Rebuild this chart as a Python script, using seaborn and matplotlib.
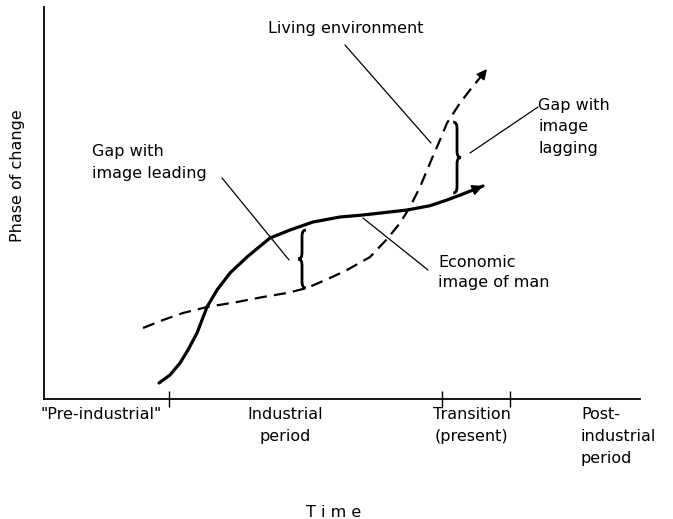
import numpy as np
import pandas as pd
import seaborn as sns
import matplotlib.pyplot as plt
from matplotlib.path import Path
from matplotlib.patches import PathPatch

# 1. Curves (axis units 0-100 on both axes)
econ_x = [19.30, 21.14, 22.82, 24.16, 25.67, 26.51, 27.35, 29.03, 31.21, 34.06, 37.92,
          41.28, 45.13, 49.66, 53.52, 60.91, 64.77, 67.62, 70.30, 73.66]
econ_y = [4.08, 6.12, 9.18, 12.50, 16.84, 20.15, 23.47, 27.81, 32.14, 36.22, 41.07,
          43.11, 45.15, 46.43, 46.94, 48.21, 49.31, 50.77, 52.30, 54.34]

env_x = [16.61, 19.97, 23.32, 27.35, 32.38, 36.74, 40.77, 44.13, 47.99, 50.84, 54.70,
         57.72, 59.73, 61.41, 63.09, 64.77, 66.44, 67.62, 69.80, 71.48, 74.33]
env_y = [18.11, 20.15, 21.94, 23.47, 24.74, 26.02, 27.04, 28.32, 30.87, 32.91, 36.22,
         41.07, 44.90, 48.98, 54.08, 60.20, 66.07, 70.41, 75.51, 78.83, 84.18]

# period boundaries and labels on the time axis
bound_x = [20.97, 66.78, 78.19]
period_x = [9.56, 40.4, 71.8, 90.1]
period_labels = ['"Pre-industrial"', 'Industrial\nperiod', 'Transition\n(present)',
                 'Post-\nindustrial\nperiod']

# gaps marked with braces: x, low end, high end
gap_x = [43.29, 69.30]
gap_lo = [28.32, 52.55]
gap_hi = [43.11, 70.66]

# 2. Style
sns.set_style('white')
plt.rcParams['font.family'] = ['DejaVu Sans']
plt.rcParams['text.color'] = 'black'
plt.rcParams['axes.labelcolor'] = 'black'
plt.rcParams['xtick.color'] = 'black'
FS = 11.5

fig = plt.figure(figsize=(6.73, 5.19), dpi=100)
ax = fig.add_axes([44 / 673, 120 / 519, 596 / 673, 392 / 519])
ax.set_xlim(0, 100)
ax.set_ylim(0, 100)

# 3. Curves
df_econ = pd.DataFrame({'t': econ_x, 'phase': econ_y})
df_env = pd.DataFrame({'t': env_x, 'phase': env_y})
sns.lineplot(data=df_econ, x='t', y='phase', ax=ax, color='black', lw=2.3, sort=False)
sns.lineplot(data=df_env, x='t', y='phase', ax=ax, color='black', lw=1.6, sort=False)
ax.lines[1].set_dashes((5.5, 3.2))
for ln in ax.lines:
    ln.set_solid_joinstyle('round')
    ln.set_dash_joinstyle('round')

# arrow heads at curve ends
for xs, ys, ms in [(econ_x, econ_y, 16), (env_x, env_y, 15)]:
    tip = np.array([xs[-1], ys[-1]])
    back = np.array([xs[-2], ys[-2]])
    ax.annotate('', xy=tip, xytext=tip + 0.4 * (back - tip),
                arrowprops=dict(arrowstyle='-|>', color='black', lw=1.2,
                                mutation_scale=ms, shrinkA=0, shrinkB=0))


# braces
def brace(ax, x, y0, y1, side):
    w = 0.65 * side
    r = 1.6
    ym = (y0 + y1) / 2
    verts = [(x - w, y1), (x, y1), (x, y1 - r), (x, ym + r), (x, ym), (x + w, ym),
             (x, ym), (x, ym - r), (x, y0 + r), (x, y0), (x - w, y0)]
    codes = [Path.MOVETO, Path.CURVE3, Path.CURVE3, Path.LINETO, Path.CURVE3, Path.CURVE3,
             Path.CURVE3, Path.CURVE3, Path.LINETO, Path.CURVE3, Path.CURVE3]
    ax.add_patch(PathPatch(Path(verts, codes), fill=False, lw=2.0, color='black'))


brace(ax, gap_x[0], gap_lo[0], gap_hi[0], -1)
brace(ax, gap_x[1], gap_lo[1], gap_hi[1], 1)

# 4. Labels with leader lines
lead = dict(color='black', lw=0.9)
ax.plot([50.50, 64.93], [90.31, 65.31], **lead)
ax.plot([29.87, 41.11], [56.38, 35.46], **lead)
ax.plot([82.89, 71.48], [74.49, 62.76], **lead)
ax.plot([53.52, 64.43], [46.17, 32.91], **lead)

ax.text(50.6, 94.6, 'Living environment', ha='center', va='center', fontsize=FS, clip_on=False)
ax.text(8.05, 60.3, 'Gap with\nimage leading', ha='left', va='center', fontsize=FS,
        linespacing=1.55, clip_on=False)
ax.text(82.9, 69.4, 'Gap with\nimage\nlagging', ha='left', va='center', fontsize=FS,
        linespacing=1.55, clip_on=False)
ax.text(66.1, 32.3, 'Economic\nimage of man', ha='left', va='center', fontsize=FS,
        linespacing=1.4, clip_on=False)

# 5. Axes
for s in ['top', 'right']:
    ax.spines[s].set_visible(False)
for s in ['left', 'bottom']:
    ax.spines[s].set_color('black')
    ax.spines[s].set_linewidth(1.3)

ax.set_yticks([])
ax.set_xticks(bound_x)
ax.set_xticklabels([])
ax.tick_params(axis='x', which='major', bottom=True, direction='inout', length=12,
               width=1.0, color='black')
ax.set_xticks(period_x, minor=True)
ax.set_xticklabels(period_labels, minor=True, fontsize=FS, linespacing=1.55)
ax.tick_params(axis='x', which='minor', bottom=True, length=0, pad=6)
minor_labels = ax.get_xticklabels(minor=True)
minor_labels[-1].set_ha('left')
minor_labels[-1].set_multialignment('left')

ax.set_xlabel('T i m e', fontsize=FS)
ax.xaxis.set_label_coords((334 - 44) / 596, -0.27)
ax.set_ylabel('Phase of change', fontsize=FS)
ax.yaxis.set_label_coords(-0.032, 0.571)

fig.savefig('out.png', dpi=100)
